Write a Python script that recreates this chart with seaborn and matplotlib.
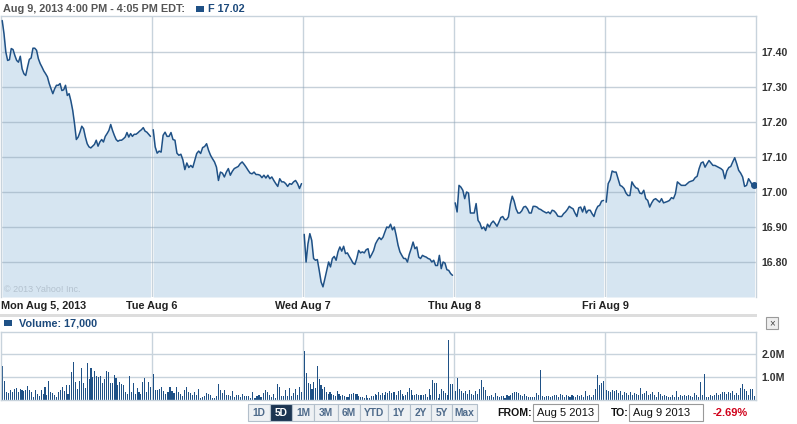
import matplotlib
matplotlib.use('Agg')
import matplotlib.pyplot as plt
import numpy as np
import pandas as pd
import seaborn as sns
from matplotlib.patches import Rectangle

# --- data (F, 5 day intraday, Aug 5-9 2013) ---
day_labels = ['Mon Aug 5, 2013', 'Tue Aug 6', 'Wed Aug 7', 'Thu Aug 8', 'Fri Aug 9']
price_ticks = [16.80, 16.90, 17.00, 17.10, 17.20, 17.30, 17.40]
volume_ticks = [1.0, 2.0]
range_buttons = ['1D', '5D', '1M', '3M', '6M', 'YTD', '1Y', '2Y', '5Y', 'Max']
selected_range = '5D'

mon_price = [17.490, 17.452, 17.400, 17.376, 17.378, 17.410, 17.407, 17.390, 17.376, 17.371,
             17.388, 17.352, 17.338, 17.333, 17.357, 17.379, 17.383, 17.411, 17.411, 17.405,
             17.381, 17.367, 17.357, 17.346, 17.338, 17.329, 17.310, 17.295, 17.281, 17.295,
             17.305, 17.305, 17.310, 17.290, 17.292, 17.305, 17.276, 17.281, 17.260, 17.233,
             17.195, 17.150, 17.157, 17.171, 17.188, 17.181, 17.157, 17.138, 17.129, 17.126,
             17.131, 17.136, 17.148, 17.131, 17.143, 17.150, 17.143, 17.159, 17.167, 17.176,
             17.193, 17.176, 17.162, 17.150, 17.145, 17.148, 17.148, 17.152, 17.157, 17.170,
             17.157, 17.167, 17.159, 17.165, 17.165, 17.169, 17.174, 17.178, 17.184, 17.174,
             17.171, 17.165, 17.159]
tue_price = [17.178, 17.129, 17.111, 17.117, 17.114, 17.162, 17.171, 17.159, 17.159, 17.170,
             17.150, 17.148, 17.111, 17.105, 17.108, 17.092, 17.064, 17.083, 17.070, 17.076,
             17.070, 17.090, 17.110, 17.117, 17.110, 17.127, 17.130, 17.138, 17.119, 17.105,
             17.095, 17.086, 17.071, 17.033, 17.057, 17.054, 17.043, 17.057, 17.067, 17.048,
             17.059, 17.067, 17.070, 17.073, 17.081, 17.086, 17.079, 17.071, 17.062, 17.054,
             17.052, 17.057, 17.050, 17.050, 17.048, 17.041, 17.048, 17.040, 17.048, 17.038,
             17.043, 17.033, 17.024, 17.016, 17.038, 17.029, 17.029, 17.024, 17.016, 17.024,
             17.022, 17.029, 17.033, 17.024, 17.010, 17.024]
wed_price = [16.879, 16.800, 16.852, 16.881, 16.862, 16.810, 16.805, 16.807, 16.776, 16.743,
             16.729, 16.752, 16.776, 16.800, 16.786, 16.810, 16.816, 16.805, 16.829, 16.843,
             16.831, 16.845, 16.824, 16.826, 16.816, 16.807, 16.797, 16.793, 16.810, 16.833,
             16.826, 16.829, 16.826, 16.835, 16.838, 16.812, 16.822, 16.833, 16.852, 16.862,
             16.870, 16.864, 16.871, 16.886, 16.900, 16.898, 16.908, 16.892, 16.900, 16.876,
             16.848, 16.829, 16.819, 16.810, 16.810, 16.800, 16.822, 16.838, 16.857, 16.838,
             16.843, 16.814, 16.810, 16.819, 16.816, 16.814, 16.810, 16.808, 16.800, 16.805,
             16.790, 16.790, 16.819, 16.781, 16.800, 16.797, 16.778, 16.776, 16.767, 16.762]
thu_price = [16.969, 16.943, 17.019, 17.014, 17.005, 16.981, 17.000, 16.997, 16.940, 16.940,
             16.940, 16.967, 16.919, 16.911, 16.895, 16.900, 16.890, 16.908, 16.900, 16.911,
             16.917, 16.910, 16.902, 16.914, 16.927, 16.930, 16.921, 16.921, 16.929, 16.965,
             16.988, 16.974, 16.952, 16.940, 16.940, 16.946, 16.957, 16.959, 16.952, 16.940,
             16.940, 16.959, 16.959, 16.957, 16.952, 16.950, 16.946, 16.943, 16.940, 16.943,
             16.938, 16.948, 16.946, 16.940, 16.931, 16.930, 16.930, 16.938, 16.943, 16.950,
             16.959, 16.955, 16.952, 16.940, 16.930, 16.955, 16.957, 16.943, 16.959, 16.940,
             16.948, 16.948, 16.938, 16.930, 16.948, 16.959, 16.962, 16.974, 16.976]
fri_price = [16.971, 17.024, 17.035, 17.060, 17.057, 17.057, 17.038, 17.019, 17.016, 17.010,
             16.997, 16.990, 16.990, 17.029, 17.019, 17.012, 17.010, 16.997, 16.995, 17.005,
             16.981, 16.976, 16.957, 16.969, 16.978, 16.981, 16.976, 16.971, 16.981, 16.969,
             16.971, 16.973, 16.976, 16.984, 16.981, 16.995, 17.029, 17.024, 17.019, 17.019,
             17.019, 17.024, 17.029, 17.031, 17.033, 17.041, 17.045, 17.067, 17.083, 17.086,
             17.071, 17.081, 17.090, 17.083, 17.076, 17.076, 17.073, 17.070, 17.067, 17.062,
             17.038, 17.060, 17.070, 17.073, 17.086, 17.098, 17.081, 17.062, 17.054, 17.043,
             17.016, 17.019, 17.038, 17.029, 17.019, 17.020]

# volume in millions of shares, one bar per 5 minutes
mon_volume = [1.48, 0.84, 0.35, 0.29, 0.42, 0.35, 0.46, 0.51, 0.36, 0.48, 0.45, 0.41, 0.43, 0.61,
              0.43, 0.35, 0.14, 0.43, 0.26, 0.17, 0.43, 0.26, 0.57, 0.22, 0.83, 0.35, 0.29, 0.20,
              0.14, 0.35, 0.43, 0.55, 0.41, 0.64, 0.26, 0.65, 1.22, 1.64, 0.78, 0.48, 0.81, 1.39,
              0.72, 0.52, 1.59, 0.90, 1.41, 1.01, 1.25, 1.03, 0.99, 1.04, 0.75, 0.91, 1.26, 1.23,
              0.75, 0.75, 1.09, 0.94, 0.67, 0.77, 0.68, 0.65, 0.35, 0.25, 1.04, 0.36, 0.74, 0.25,
              0.51, 0.36, 0.25, 0.80, 0.94, 0.35, 0.77, 0.55]
tue_volume = [1.12, 0.45, 0.45, 0.46, 0.58, 0.39, 0.26, 0.36, 0.58, 0.41, 0.29, 0.55, 0.35, 0.25,
              0.17, 0.42, 0.57, 0.35, 0.29, 0.20, 0.35, 0.23, 0.46, 0.09, 0.14, 0.19, 0.29, 0.25,
              0.22, 0.10, 0.09, 0.17, 0.68, 0.43, 0.32, 0.45, 0.20, 0.23, 0.19, 0.39, 0.14, 0.20,
              0.22, 0.14, 0.25, 0.17, 0.19, 0.17, 0.10, 0.35, 0.09, 0.17, 0.22, 0.12, 0.29, 0.42,
              0.35, 0.22, 0.14, 0.28, 0.10, 0.70, 0.55, 0.17, 0.16, 0.43, 0.17, 0.51, 0.19, 0.29,
              0.46, 0.20, 0.55, 0.35]
wed_volume = [2.12, 1.16, 0.72, 0.71, 0.46, 0.78, 0.51, 1.48, 0.91, 0.64, 0.46, 0.57, 0.36, 0.28,
              0.35, 0.28, 0.20, 0.16, 0.38, 0.26, 0.19, 0.20, 0.17, 0.14, 0.13, 0.28, 0.28, 0.29,
              0.28, 0.26, 0.17, 0.14, 0.13, 0.07, 0.20, 0.10, 0.09, 0.16, 0.16, 0.26, 0.20, 0.35,
              0.22, 0.30, 0.20, 0.35, 0.30, 0.38, 0.32, 0.36, 0.35, 0.22, 0.40, 0.43, 0.26, 0.17,
              0.22, 0.36, 0.51, 0.44, 0.23, 0.20, 0.25, 0.22, 0.20, 0.23, 0.22, 0.26, 0.14, 0.46,
              0.22, 0.87, 0.75, 0.72, 0.07, 0.26, 0.46, 0.41, 0.29, 0.22, 2.62, 0.68, 0.70]
thu_volume = [0.41, 0.95, 0.48, 0.41, 0.29, 0.38, 0.26, 0.44, 0.26, 0.22, 0.38, 0.26, 0.46, 0.86,
              0.58, 0.44, 0.17, 0.17, 0.22, 0.12, 0.29, 0.17, 0.15, 0.19, 0.17, 0.10, 0.20, 0.17,
              0.20, 0.32, 0.35, 0.35, 0.32, 0.20, 0.17, 0.26, 0.17, 0.15, 0.15, 0.12, 0.15, 0.29,
              0.20, 1.31, 0.17, 0.12, 0.19, 0.16, 0.15, 0.17, 0.22, 0.20, 0.15, 0.26, 0.20, 0.15,
              0.22, 0.17, 0.15, 0.20, 0.19, 0.15, 0.22, 0.17, 0.20, 0.15, 0.39, 0.17, 0.22, 0.15,
              0.22, 0.48, 1.09, 0.66, 0.76, 0.83]
fri_volume = [0.44, 0.41, 0.35, 0.44, 0.41, 0.44, 0.29, 0.38, 0.23, 0.35, 0.29, 0.20, 0.36, 0.20,
              0.32, 0.26, 0.20, 0.54, 0.26, 0.29, 0.39, 0.20, 0.26, 0.36, 0.23, 0.15, 0.33, 0.26,
              0.17, 0.23, 0.17, 0.15, 0.15, 0.22, 0.15, 0.39, 0.15, 0.20, 0.17, 0.20, 0.16, 0.20,
              0.17, 0.15, 0.29, 0.20, 0.15, 0.79, 0.22, 1.12, 0.15, 0.12, 0.20, 0.17, 0.22, 0.29,
              0.22, 0.26, 0.36, 0.33, 0.26, 0.35, 0.29, 0.41, 0.22, 0.29, 0.22, 0.51, 0.68, 0.46,
              0.41, 0.22, 0.46, 0.46, 0.17]

prices = [mon_price, tue_price, wed_price, thu_price, fri_price]
volumes = [mon_volume, tue_volume, wed_volume, thu_volume, fri_volume]

LINE = '#1f5186'
FILL = '#d6e5f1'
GRID = '#c8d3dc'
W, H = 797, 424

sns.set_theme(style='white')
plt.rcParams['font.family'] = ['Liberation Sans', 'DejaVu Sans']


def box(l, t, r, b):
    # pixel box (left, top, right, bottom) -> figure fraction rect
    return [l / W, 1 - b / H, (r - l) / W, (b - t) / H]


def fx(x):
    return x / W


def fy(y):
    return 1 - y / H


# one row per 5 minute bar, x in "days"
price_rows = []
for d, vals in enumerate(prices):
    xs = d + np.linspace(0.008, 0.99, len(vals))
    for x, v in zip(xs, vals):
        price_rows.append({'day': d, 'x': x, 'price': v})
price_df = pd.DataFrame(price_rows)

vol_rows = []
for d, vals in enumerate(volumes):
    xs = d + np.linspace(0.012, 0.99, len(vals))
    for x, v in zip(xs, vals):
        vol_rows.append({'day': d, 'x': x, 'volume': v})
vol_df = pd.DataFrame(vol_rows)

fig = plt.figure(figsize=(W / 100, H / 100), dpi=100)

# ---------------- price panel ----------------
ax = fig.add_axes(box(1, 16, 756, 297))
ax.set_xlim(0, 5)
ax.set_ylim(16.70, 17.503)
for k in range(1, 5):
    ax.axvline(k, color=GRID, lw=1, zorder=0)
for d in range(5):
    sub = price_df[price_df.day == d]
    ax.fill_between(sub.x, sub.price, 16.70, color=FILL, lw=0, zorder=1)
for v in price_ticks:
    ax.axhline(v, color='#8ea3b5', alpha=0.5, lw=1, zorder=2)
sns.lineplot(data=price_df, x='x', y='price', units='day', estimator=None,
             color=LINE, lw=1.1, ax=ax, zorder=3)
last = price_df.iloc[-1]
ax.plot(last.x, last.price, 'o', ms=4, color=LINE, zorder=4)
ax.yaxis.tick_right()
ax.set_yticks(price_ticks)
ax.set_yticklabels([f'{v:.2f}' for v in price_ticks])
ax.tick_params(axis='y', length=0, pad=4, labelsize=7.6, labelcolor='#333333')
for lab in ax.get_yticklabels():
    lab.set_fontweight('bold')
ax.set_xticks(range(5))
ax.set_xticklabels(day_labels)
ax.tick_params(axis='x', length=0, pad=3, labelsize=7.8, labelcolor='#222222')
for i, lab in enumerate(ax.get_xticklabels()):
    lab.set_fontweight('bold')
    if i == 0:
        lab.set_horizontalalignment('left')
ax.set_xlabel('')
ax.set_ylabel('')
for side in ['top', 'right', 'left']:
    ax.spines[side].set_color(GRID)
    ax.spines[side].set_linewidth(1)
ax.spines['bottom'].set_visible(False)
ax.text(0.02, 16.715, '\u00a9 2013 Yahoo! Inc.', fontsize=6.5, color='#b4c2cf', zorder=5)

# ---------------- volume panel ----------------
axv = fig.add_axes(box(1, 332, 756, 400))
for k in range(1, 5):
    axv.axvline(k, color=GRID, lw=1, zorder=0)
for v in volume_ticks:
    axv.axhline(v, color=GRID, lw=1, zorder=0)
axv.bar(vol_df.x, vol_df.volume, width=0.0072, color=LINE, lw=0, zorder=2,
        antialiased=False)
axv.set_xlim(0, 5)
axv.set_ylim(0, 2.96)
axv.yaxis.tick_right()
axv.set_yticks(volume_ticks)
axv.set_yticklabels([f'{v:.1f}M' for v in volume_ticks])
axv.tick_params(axis='y', length=0, pad=4, labelsize=7.6, labelcolor='#333333')
for lab in axv.get_yticklabels():
    lab.set_fontweight('bold')
axv.set_xticks([])
axv.set_xlabel('')
axv.set_ylabel('')
for side in axv.spines:
    axv.spines[side].set_color(GRID)
    axv.spines[side].set_linewidth(1)

# ---------------- header / legend ----------------
fig.text(fx(3), fy(9), 'Aug 9, 2013 4:00 PM - 4:05 PM EDT:', fontsize=7.8, fontweight='bold',
         color='#555555', va='center')
fig.add_artist(Rectangle((fx(196), fy(12)), 8 / W, 6 / H, transform=fig.transFigure,
                         color=LINE, lw=0))
fig.text(fx(208), fy(9), 'F 17.02', fontsize=7.8, fontweight='bold', color='#1d4a7c',
         va='center')

fig.add_artist(Rectangle((fx(0), fy(317)), 757 / W, 3 / H, transform=fig.transFigure,
                         color='#dddddd', lw=0))
fig.add_artist(Rectangle((fx(4), fy(326)), 8 / W, 6 / H, transform=fig.transFigure,
                         color=LINE, lw=0))
fig.text(fx(19), fy(323), 'Volume: 17,000', fontsize=7.8, fontweight='bold', color='#1d4a7c',
         va='center')
fig.add_artist(Rectangle((fx(766), fy(329)), 12 / W, 12 / H, transform=fig.transFigure,
                         facecolor='#eeeeee', edgecolor='#9a9a9a', lw=0.8))
fig.text(fx(772), fy(323), '\u00d7', fontsize=7, color='#444444', ha='center', va='center')

# ---------------- range buttons ----------------
edges = [248, 270, 292, 314, 338, 360, 388, 410, 431, 452, 477]
for i, name in enumerate(range_buttons):
    l, r = edges[i], edges[i + 1]
    sel = name == selected_range
    fig.add_artist(Rectangle((fx(l), fy(421)), (r - l) / W, 17 / H, transform=fig.transFigure,
                             facecolor='#1c3552' if sel else '#eef1f4',
                             edgecolor='#b3bfcb', lw=0.8))
    fig.text(fx((l + r) / 2), fy(412.5), name, fontsize=7.4, fontweight='bold',
             color='white' if sel else '#4f6b8b', ha='center', va='center')

fig.text(fx(497), fy(412.5), 'FROM:', fontsize=7.6, fontweight='bold', color='#111111',
         va='center')
fig.add_artist(Rectangle((fx(533), fy(421)), 65 / W, 17 / H, transform=fig.transFigure,
                         facecolor='white', edgecolor='#999999', lw=0.8))
fig.text(fx(537), fy(412.5), 'Aug 5 2013', fontsize=8, color='#111111', va='center')
fig.text(fx(611), fy(412.5), 'TO:', fontsize=7.6, fontweight='bold', color='#111111',
         va='center')
fig.add_artist(Rectangle((fx(629), fy(421)), 74 / W, 17 / H, transform=fig.transFigure,
                         facecolor='white', edgecolor='#999999', lw=0.8))
fig.text(fx(633), fy(412.5), 'Aug 9 2013', fontsize=8, color='#111111', va='center')
fig.text(fx(713), fy(412.5), '-2.69%', fontsize=8, fontweight='bold', color='#d0021b',
         va='center')

fig.savefig('out.png', dpi=100)
